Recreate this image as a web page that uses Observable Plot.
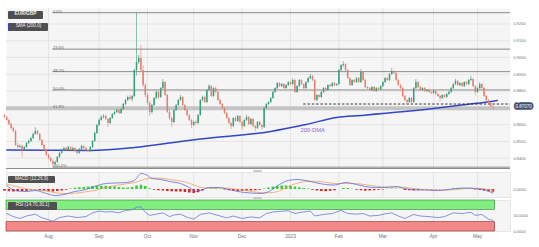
<!DOCTYPE html>
<html><head><meta charset="utf-8">
<script src="https://cdn.jsdelivr.net/npm/d3@7"></script>
<script src="https://cdn.jsdelivr.net/npm/@observablehq/plot@0.6"></script>
<style>
html,body{margin:0;padding:0;background:#fff;}
#wrap{position:relative;width:539px;height:247px;overflow:hidden;background:#fff;font-family:"Liberation Sans",Arial,sans-serif;}
#wrap svg{position:absolute;left:0;}
.tag{position:absolute;left:8px;background:#4f4f4f;color:#f2f2f2;font-size:4.6px;line-height:1;display:flex;align-items:center;justify-content:center;white-space:nowrap;border-radius:1px;box-sizing:border-box;}
.handle{position:absolute;left:253px;width:9px;height:2px;background:#c8c8c8;border-radius:1px;}
</style></head><body>
<div id="wrap"></div>
<script>
// ---------- data ----------
const monthIdx = [20, 43, 65, 86, 108, 130, 152, 172, 195, 215];
const monthLabels = ["Aug","Sep","Oct","Nov","Dec","2023","Feb","Mar","Apr","May"];
const priceTicks = [0.84, 0.85, 0.86, 0.88, 0.89, 0.90, 0.91, 0.92];
const priceGrid = [0.84, 0.85, 0.86, 0.87, 0.88, 0.89, 0.90, 0.91, 0.92];

const opens = [
.8655,.8643,.8625,.8601,.8577,.8560,.8476,.8464,.8470,.8447,
.8464,.8488,.8500,.8518,.8542,.8560,.8542,.8506,.8476,.8447,
.8417,.8399,.8381,.8363,.8375,.8405,.8429,.8447,.8458,.8447,
.8464,.8447,.8458,.8441,.8429,.8452,.8470,.8458,.8447,.8441,
.8464,.8500,.8548,.8595,.8625,.8643,.8649,.8631,.8607,.8637,
.8661,.8673,.8685,.8667,.8690,.8720,.8744,.8762,.8750,.8768,
.8922,.8970,.8994,.8922,.8833,.8774,.8726,.8673,.8714,.8756,
.8792,.8762,.8815,.8851,.8774,.8673,.8637,.8613,.8685,.8714,
.8744,.8762,.8714,.8685,.8655,.8625,.8595,.8613,.8607,.8655,
.8744,.8762,.8732,.8804,.8827,.8768,.8815,.8792,.8744,.8720,
.8696,.8667,.8637,.8607,.8589,.8637,.8619,.8649,.8613,.8589,
.8625,.8643,.8601,.8631,.8589,.8577,.8613,.8595,.8583,.8696,
.8720,.8732,.8756,.8792,.8815,.8845,.8827,.8839,.8815,.8833,
.8851,.8839,.8863,.8792,.8827,.8863,.8839,.8815,.8851,.8875,
.8887,.8863,.8744,.8774,.8762,.8792,.8815,.8804,.8833,.8827,
.8845,.8833,.8839,.8922,.8952,.8958,.8922,.8875,.8833,.8863,
.8851,.8875,.8851,.8911,.8863,.8821,.8815,.8804,.8821,.8798,
.8815,.8809,.8827,.8851,.8875,.8863,.8899,.8917,.8905,.8863,
.8833,.8815,.8768,.8744,.8732,.8756,.8732,.8815,.8851,.8821,
.8804,.8815,.8798,.8804,.8792,.8786,.8798,.8780,.8768,.8756,
.8774,.8762,.8780,.8792,.8815,.8839,.8857,.8833,.8845,.8827,
.8851,.8839,.8863,.8869,.8827,.8792,.8815,.8839,.8815,.8768,
.8744,.8726,.8708];
const highs = [
.8662,.8650,.8633,.8610,.8585,.8566,.8488,.8480,.8478,.8470,
.8494,.8510,.8525,.8550,.8583,.8566,.8548,.8512,.8482,.8452,
.8423,.8405,.8390,.8385,.8411,.8435,.8455,.8466,.8467,.8472,
.8470,.8465,.8464,.8447,.8460,.8478,.8476,.8464,.8452,.8470,
.8506,.8555,.8602,.8633,.8652,.8660,.8656,.8637,.8643,.8667,
.8680,.8692,.8690,.8697,.8727,.8752,.8770,.8774,.8775,.8930,
.9267,.9012,.9071,.8952,.8845,.8786,.8738,.8720,.8762,.8800,
.8798,.8821,.8869,.8857,.8780,.8685,.8643,.8692,.8720,.8750,
.8774,.8768,.8720,.8690,.8661,.8631,.8620,.8625,.8661,.8750,
.8770,.8768,.8810,.8839,.8833,.8821,.8827,.8798,.8750,.8726,
.8702,.8673,.8643,.8613,.8643,.8649,.8655,.8655,.8619,.8631,
.8655,.8649,.8637,.8637,.8595,.8619,.8619,.8601,.8702,.8726,
.8738,.8762,.8798,.8821,.8851,.8851,.8845,.8845,.8839,.8857,
.8857,.8875,.8869,.8833,.8869,.8869,.8845,.8857,.8881,.8899,
.8893,.8869,.8780,.8780,.8798,.8821,.8821,.8839,.8839,.8851,
.8851,.8845,.8928,.8958,.8976,.8964,.8928,.8881,.8869,.8869,
.8881,.8881,.8928,.8917,.8869,.8827,.8821,.8827,.8827,.8821,
.8821,.8833,.8857,.8881,.8881,.8905,.8934,.8922,.8911,.8869,
.8839,.8821,.8774,.8750,.8762,.8762,.8821,.8869,.8857,.8827,
.8821,.8821,.8810,.8810,.8798,.8804,.8804,.8786,.8774,.8780,
.8780,.8786,.8798,.8821,.8845,.8869,.8863,.8851,.8851,.8857,
.8857,.8869,.8887,.8875,.8833,.8821,.8851,.8845,.8821,.8774,
.8750,.8732,.8714];
const lows = [
.8637,.8619,.8595,.8570,.8552,.8470,.8455,.8458,.8405,.8440,
.8458,.8482,.8494,.8512,.8536,.8536,.8500,.8470,.8440,.8411,
.8390,.8375,.8345,.8355,.8369,.8399,.8423,.8440,.8440,.8441,
.8440,.8440,.8433,.8420,.8424,.8446,.8452,.8440,.8434,.8435,
.8458,.8494,.8542,.8589,.8619,.8635,.8625,.8583,.8601,.8631,
.8655,.8667,.8660,.8661,.8684,.8714,.8738,.8744,.8735,.8762,
.8890,.8958,.8911,.8821,.8762,.8714,.8649,.8661,.8708,.8750,
.8750,.8756,.8809,.8768,.8667,.8625,.8583,.8607,.8679,.8708,
.8738,.8708,.8679,.8649,.8619,.8577,.8589,.8600,.8601,.8649,
.8738,.8726,.8726,.8798,.8762,.8762,.8786,.8738,.8714,.8690,
.8661,.8631,.8601,.8571,.8583,.8613,.8613,.8607,.8566,.8583,
.8619,.8595,.8595,.8583,.8560,.8571,.8589,.8566,.8577,.8690,
.8714,.8726,.8750,.8786,.8809,.8821,.8821,.8809,.8809,.8827,
.8833,.8833,.8786,.8786,.8821,.8833,.8809,.8809,.8845,.8869,
.8857,.8738,.8738,.8756,.8756,.8786,.8798,.8798,.8821,.8821,
.8827,.8827,.8833,.8917,.8940,.8917,.8869,.8827,.8827,.8845,
.8845,.8845,.8845,.8857,.8815,.8809,.8798,.8798,.8792,.8792,
.8804,.8804,.8821,.8845,.8857,.8857,.8893,.8899,.8857,.8827,
.8809,.8762,.8738,.8714,.8726,.8726,.8726,.8809,.8815,.8798,
.8798,.8792,.8792,.8786,.8780,.8780,.8774,.8762,.8738,.8750,
.8756,.8756,.8774,.8786,.8809,.8833,.8827,.8827,.8821,.8821,
.8833,.8833,.8857,.8821,.8774,.8786,.8809,.8809,.8762,.8738,
.8720,.8702,.8690];
const closes = [
.8643,.8625,.8601,.8577,.8560,.8476,.8464,.8470,.8447,.8464,
.8488,.8500,.8518,.8542,.8560,.8542,.8506,.8476,.8447,.8417,
.8399,.8381,.8363,.8375,.8405,.8429,.8447,.8458,.8447,.8464,
.8447,.8458,.8441,.8429,.8452,.8470,.8458,.8447,.8441,.8464,
.8500,.8548,.8595,.8625,.8643,.8649,.8631,.8607,.8637,.8661,
.8673,.8685,.8667,.8690,.8720,.8744,.8762,.8750,.8768,.8922,
.8970,.8994,.8922,.8833,.8774,.8726,.8673,.8714,.8756,.8792,
.8762,.8815,.8851,.8774,.8673,.8637,.8613,.8685,.8714,.8744,
.8762,.8714,.8685,.8655,.8625,.8595,.8613,.8607,.8655,.8744,
.8762,.8732,.8804,.8827,.8768,.8815,.8792,.8744,.8720,.8696,
.8667,.8637,.8607,.8589,.8637,.8619,.8649,.8613,.8589,.8625,
.8643,.8601,.8631,.8589,.8577,.8613,.8595,.8583,.8696,.8720,
.8732,.8756,.8792,.8815,.8845,.8827,.8839,.8815,.8833,.8851,
.8839,.8863,.8792,.8827,.8863,.8839,.8815,.8851,.8875,.8887,
.8863,.8744,.8774,.8762,.8792,.8815,.8804,.8833,.8827,.8845,
.8833,.8839,.8922,.8952,.8958,.8922,.8875,.8833,.8863,.8851,
.8875,.8851,.8911,.8863,.8821,.8815,.8804,.8821,.8798,.8815,
.8809,.8827,.8851,.8875,.8863,.8899,.8917,.8905,.8863,.8833,
.8815,.8768,.8744,.8732,.8756,.8732,.8815,.8851,.8821,.8804,
.8815,.8798,.8804,.8792,.8786,.8798,.8780,.8768,.8756,.8774,
.8762,.8780,.8792,.8815,.8839,.8857,.8833,.8845,.8827,.8851,
.8839,.8863,.8869,.8827,.8792,.8815,.8839,.8815,.8768,.8744,
.8726,.8708,.8707];

const smaIdx = [1, 20, 39, 59, 80, 89, 121, 137, 151, 162, 195, 210, 222, 224];
const smaVals = [.8449, .8448, .8446, .8464, .8500, .8515, .8560, .8601, .8643, .8655, .8696, .8720, .8740, .8744];

const fibLevels = [0.9267, 0.9050, 0.8916, 0.8807, 0.8698, 0.8347];
const fibLabels = ["0.0%", "23.6%", "38.2%", "50.0%", "61.8%", "100.0%"];
const fibStartIdx = 22;
const supportLevel = 0.8723;
const supportStartIdx = 136;

const macdIdx = [1,5,10,14,19,23,26,32,37,41,46,50,55,59,61,62,65,67,71,75,80,84,87,89,93,97,102,106,112,117,121,125,129,133,137,141,146,150,155,160,164,169,173,178,182,187,191,196,200,205,210,214,219,222];
const macdVals = [.0032,-.0008,-.0016,-.0008,-.0032,-.0048,-.0044,-.0016,0,.0024,.0048,.0052,.0056,.0072,.0112,.0128,.0112,.0088,.0080,.0064,.0048,.0016,-.0016,-.0008,.0016,.0016,0,-.0016,-.0028,-.0032,-.0008,.0040,.0072,.0080,.0072,.0056,.0040,.0036,.0056,.0040,.0024,.0016,.0016,.0024,.0008,-.0004,-.0004,-.0008,-.0004,.0008,.0012,.0008,-.0008,-.0028];
const signalVals = [.0045,.0025,.0005,-.0005,-.0012,-.0025,-.0032,-.0030,-.0018,-.0008,.0015,.0030,.0045,.0055,.0065,.0072,.0088,.0092,.0090,.0080,.0068,.0050,.0030,.0018,.0010,.0012,.0010,0,-.0015,-.0026,-.0025,-.0010,.0025,.0050,.0065,.0066,.0058,.0048,.0048,.0047,.0038,.0026,.0020,.0020,.0016,.0006,0,-.0005,-.0006,0,.0008,.0010,.0004,-.0006];
// histogram, one value per two bars (bar 0, 2, 4 ...)
const histVals = [
-.0014,-.0018,-.0020,-.0018,-.0016,-.0016,-.0010,-.0004,-.0008,-.0014,
-.0018,-.0020,-.0016,-.0012,-.0006,.0004,.0010,.0014,.0016,.0020,
.0024,.0026,.0026,.0026,.0024,.0020,.0016,.0012,.0012,.0016,
.0028,.0034,.0024,.0006,-.0006,-.0010,-.0012,-.0016,-.0018,-.0020,
-.0020,-.0024,-.0028,-.0032,-.0026,-.0012,.0002,.0006,.0006,.0002,
-.0004,-.0010,-.0014,-.0016,-.0014,-.0012,-.0012,-.0010,-.0006,.0004,
.0012,.0020,.0026,.0028,.0028,.0024,.0020,.0014,.0008,.0004,
-.0006,-.0012,-.0016,-.0018,-.0014,-.0010,.0000,.0008,.0008,.0002,
-.0006,-.0010,-.0014,-.0012,-.0010,-.0006,-.0004,.0002,.0004,.0004,
.0002,-.0008,-.0010,-.0010,-.0008,-.0006,-.0004,-.0004,-.0003,-.0002,
-.0002,.0000,.0004,.0006,.0006,.0004,.0002,-.0004,-.0008,-.0012,
-.0018,-.0022];

const rsiIdx = [1,4,7,10,14,17,20,22,25,29,33,37,40,43,46,49,52,55,58,60,62,64,66,69,72,75,77,80,83,86,89,93,97,101,104,108,112,116,119,122,125,129,132,135,139,141,145,149,153,156,160,163,166,170,173,176,179,182,186,189,193,197,200,204,208,212,214,217,220,222];
const rsiVals = [58,48,42,50,56,44,38,33,45,50,45,48,60,66,63,64,60,68,70,78,80,62,52,56,60,48,53,56,46,40,55,60,52,44,50,42,47,44,58,63,65,67,58,62,66,50,55,58,68,58,56,58,50,52,57,60,50,42,55,50,48,45,48,60,58,62,52,55,40,36];
const rsiOverbought = 70, rsiOversold = 30;

// ---------- build ----------
const FONT = '"Liberation Sans", Arial, sans-serif';
const X_DOMAIN = [0.9, 230];
const common = {width: 539, marginLeft: 6, marginRight: 29};
const up = "#3a9e7e", down = "#e2806c";
const panelBg = "#f5f5f5", gridC = "#e4e4e4";
const fmt4 = d3.format(".4f");

const bars = closes.map((c, i) => ({i, o: opens[i], h: highs[i], l: lows[i], c}));
const candleColor = d => d.c >= d.o ? up : down;
const sma = smaIdx.map((i, k) => ({i, v: smaVals[k]}));
const macd = macdIdx.map((i, k) => ({i, m: macdVals[k], s: signalVals[k]}));
const hist = histVals.map((v, k) => ({i: k * 2, v}));
const rsi = rsiIdx.map((i, k) => ({i, v: rsiVals[k]}));
const lastClose = closes[closes.length - 1];
const bandEnd = closes.length;

const wrap = document.getElementById("wrap");

const main = Plot.plot({
  ...common, height: 170, marginTop: 8, marginBottom: 2,
  x: {type: "linear", domain: X_DOMAIN, axis: null},
  y: {domain: [0.8339, 0.9292], axis: "right", ticks: priceTicks, tickFormat: fmt4, tickSize: 0, tickPadding: 3, label: null},
  style: {background: "transparent", fontFamily: FONT, fontSize: "4px", color: "#6f6f6f"},
  marks: [
    Plot.frame({fill: panelBg}),
    Plot.ruleY(priceGrid, {stroke: gridC}),
    Plot.ruleX(monthIdx, {stroke: gridC}),
    Plot.ruleY([fibLevels[4]], {stroke: "#c4c4c4", strokeWidth: 4}),
    Plot.ruleY(fibLevels.filter((d, k) => k !== 4), {x1: fibStartIdx, x2: X_DOMAIN[1], stroke: "#707070", strokeWidth: 0.8}),
    Plot.text(fibLevels, {x: fibStartIdx, y: d => d, text: (d, k) => fibLabels[k], textAnchor: "start", lineAnchor: "bottom", dy: 0.2, fontSize: 4, fill: "#666"}),
    Plot.line(sma, {x: "i", y: "v", stroke: "#3346c4", strokeWidth: 1.5, curve: "monotone-x"}),
    Plot.ruleY([supportLevel], {x1: supportStartIdx, x2: X_DOMAIN[1], stroke: "#222", strokeWidth: 0.9, strokeDasharray: "2.5,1.8"}),
    Plot.ruleX(bars, {x: "i", y1: "l", y2: "h", stroke: candleColor, strokeWidth: 0.6}),
    Plot.ruleX(bars, {x: "i", y1: "o", y2: "c", stroke: candleColor, strokeWidth: 1.5}),
    Plot.ruleY([0.8339], {stroke: "#8c8c8c", strokeWidth: 1}),
    Plot.text(["200-DMA"], {x: 134.5, y: 0.8565, text: d => d, textAnchor: "start", fontSize: 5.8, fill: "#7a6fd4"}),
    Plot.text([lastClose], {x: X_DOMAIN[1], y: d => d, text: d => d.toFixed(5), textAnchor: "start", dx: 5, fontSize: 4.5, fill: "#fff", stroke: "#40506e", strokeWidth: 3.6, strokeLinejoin: "round", paintOrder: "stroke"})
  ]
});
main.style.top = "0px";
wrap.appendChild(main);

const macdPlot = Plot.plot({
  ...common, height: 28, marginTop: 2, marginBottom: 1,
  x: {type: "linear", domain: X_DOMAIN, axis: null},
  y: {domain: [-0.0064, 0.0136], axis: "right", ticks: [0], tickFormat: fmt4, tickSize: 0, tickPadding: 3, label: null},
  style: {background: "transparent", fontFamily: FONT, fontSize: "4px", color: "#6f6f6f"},
  marks: [
    Plot.frame({fill: panelBg, stroke: "#e6e6e6"}),
    Plot.ruleX(monthIdx, {stroke: gridC}),
    Plot.ruleX(hist, {x: "i", y1: 0, y2: "v", stroke: d => d.v >= 0 ? "#3ccc3c" : "#d42a2a", strokeWidth: 2.6}),
    Plot.line(macd, {x: "i", y: "s", stroke: "#f0a060", strokeWidth: 0.8, curve: "monotone-x"}),
    Plot.line(macd, {x: "i", y: "m", stroke: "#5a6ee0", strokeWidth: 0.8, curve: "monotone-x"})
  ]
});
macdPlot.style.top = "170px";
wrap.appendChild(macdPlot);

const rsiPlot = Plot.plot({
  ...common, height: 52, marginTop: 5, marginBottom: 16,
  x: {type: "linear", domain: X_DOMAIN, axis: "bottom", ticks: monthIdx, tickFormat: d => monthLabels[monthIdx.indexOf(d)], tickSize: 0, tickPadding: 3, label: null},
  y: {domain: [0, 100], axis: "right", ticks: [0, 50], tickFormat: fmt4, tickSize: 0, tickPadding: 3, label: null},
  style: {background: "transparent", fontFamily: FONT, fontSize: "4px", color: "#6f6f6f"},
  marks: [
    Plot.frame({fill: panelBg, stroke: "#e6e6e6"}),
    Plot.ruleX(monthIdx, {stroke: gridC}),
    Plot.rect([rsiOverbought], {x1: X_DOMAIN[0], x2: bandEnd, y1: d => d, y2: 100, fill: "#80ee80", stroke: "#2d7d2d", strokeWidth: 0.6}),
    Plot.rect([rsiOversold], {x1: X_DOMAIN[0], x2: bandEnd, y1: 0, y2: d => d, fill: "#f28888", stroke: "#8a2a2a", strokeWidth: 0.6}),
    Plot.line(rsi, {x: "i", y: "v", stroke: "#6677dd", strokeWidth: 0.8})
  ]
});
rsiPlot.style.top = "195px";
rsiPlot.querySelectorAll('g[aria-label^="x-axis"]').forEach(g => { g.setAttribute("font-size", "4.8"); g.querySelectorAll("text").forEach(t => t.setAttribute("font-size", "4.8")); });
wrap.appendChild(rsiPlot);

// legend tags and panel handles
function tag(text, top, w, h, extra) {
  const d = document.createElement("div");
  d.className = "tag";
  d.textContent = text;
  d.style.top = top + "px"; d.style.width = w + "px"; d.style.height = h + "px";
  if (extra) Object.assign(d.style, extra);
  wrap.appendChild(d);
}
tag("EUR/GBP", 11, 35, 7.5, {fontWeight: "bold", fontSize: "4.8px"});
tag("SMA (200,0)", 22.5, 40, 8.5, {borderLeft: "1.5px solid #3348c8"});
tag("MACD (12,26,9)", 176, 47, 7);
tag("RSI (14,70,30,1)", 202, 49, 7.5);
[169.5, 197].forEach(t => { const h = document.createElement("div"); h.className = "handle"; h.style.top = t + "px"; wrap.appendChild(h); });
</script>
</body></html>
